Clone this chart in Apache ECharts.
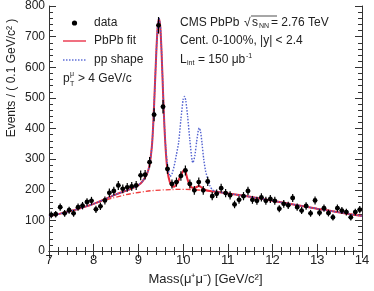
<!DOCTYPE html>
<html>
<head>
<meta charset="utf-8">
<script src="https://cdn.jsdelivr.net/npm/echarts@6/dist/echarts.min.js"></script>
<style>
html,body{margin:0;padding:0;background:#fff;}
#chart{width:374px;height:291px;}
</style>
</head>
<body>
<div id="chart"></div>
<script>
// Bin centres (0.1 GeV/c^2 bins) and event counts
const massBins = [7.05,7.15,7.25,7.35,7.45,7.55,7.65,7.75,7.85,7.95,
  8.05,8.15,8.25,8.35,8.45,8.55,8.65,8.75,8.85,8.95,
  9.05,9.15,9.25,9.35,9.45,9.55,9.65,9.75,9.85,9.95,
  10.05,10.15,10.25,10.35,10.45,10.55,10.65,10.75,10.85,10.95,
  11.05,11.15,11.25,11.35,11.45,11.55,11.65,11.75,11.85,11.95,
  12.05,12.15,12.25,12.35,12.45,12.55,12.65,12.75,12.85,12.95,
  13.05,13.15,13.25,13.35,13.45,13.55,13.65,13.75,13.85,13.95];
const counts = [118,120,143,123,133,123,143,148,160,164,
  136,146,165,190,196,214,203,208,211,214,
  247,249,290,445,737,471,268,219,225,245,
  263,219,198,225,198,227,179,187,205,189,
  182,152,167,179,196,167,164,175,164,170,
  164,138,154,149,173,143,132,147,123,165,
  125,140,124,110,140,132,127,110,127,135];

// PbPb fit curve (red solid)
const fitMass = [7.0,7.5,8.0,8.5,8.8,9.0,9.1,9.2,9.25,9.3,9.33,9.36,9.4,9.43,9.46,9.49,9.52,9.55,9.58,9.61,9.65,9.7,9.75,9.8,9.85,9.9,9.95,10.0,10.03,10.06,10.1,10.15,10.2,10.25,10.3,10.35,10.4,10.45,10.5,10.6,10.8,11.0,11.5,12.0,12.5,13.0,13.5,14.0];
const fitVals = [113,131,154,185,201,215,229,255,282,340,410,510,650,730,758,730,640,520,410,330,262,226,212,210,218,232,248,261,265,255,233,214,207,206,209,212,209,203,199,196,192,188,177,164,151,138,126,114];

// pp shape curve (blue dotted)
const ppMass = [7.0,7.5,8.0,8.5,8.8,9.0,9.1,9.2,9.25,9.3,9.33,9.36,9.4,9.43,9.46,9.49,9.52,9.55,9.58,9.61,9.65,9.71,9.75,9.8,9.85,9.9,9.95,10.0,10.03,10.06,10.1,10.15,10.2,10.22,10.26,10.3,10.34,10.36,10.39,10.42,10.46,10.5,10.55,10.6,10.65,10.7,10.8,11.0,11.5,12.0,12.5,13.0,13.5,14.0];
const ppVals = [113,131,154,185,201,215,229,255,282,340,410,510,652,735,762,735,645,525,415,338,280,243,252,278,315,355,430,495,505,490,440,362,295,288,310,355,395,402,390,355,300,262,235,212,200,196,192,188,177,164,151,138,126,114];

// Background component (red dash-dot)
const bgMass = [7.0,7.5,8.0,8.5,9.0,9.5,10.0,10.5,11.0,11.5,12.0,12.5,13.0,13.5,14.0];
const bgVals = [113,132,154,176,191,199,201,197,188,177,164,151,138,126,114];

const xTicks = [7,8,9,10,11,12,13,14];
const yTicks = [0,100,200,300,400,500,600,700,800];

const FONT = '"Liberation Sans", Arial, Helvetica, sans-serif';
const pair = (xs, ys) => xs.map((x, i) => [x, ys[i]]);
const dataPts = massBins.map((m, i) => [m, counts[i], Math.sqrt(counts[i])]);

const chart = echarts.init(document.getElementById('chart'), null, {renderer: 'canvas'});

const axisCommon = {
  axisLine: {show: true, lineStyle: {color: '#333', width: 1}},
  axisTick: {show: true, inside: true, length: 7, lineStyle: {color: '#333'}},
  minorTick: {show: true, splitNumber: 5, length: 4, lineStyle: {color: '#333'}},
  splitLine: {show: false}
};

const T = (x, y, text, size) => ({type: 'text', x: x, y: y,
  style: {text: text, font: (size || 12) + 'px ' + FONT, fill: '#222', textVerticalAlign: 'middle'}});

chart.setOption({
  animation: false,
  backgroundColor: '#fff',
  grid: {left: 49, right: 12, top: 5, bottom: 40, containLabel: false},
  xAxis: [
    Object.assign({
      type: 'value', min: xTicks[0], max: xTicks[xTicks.length-1], interval: 1,
      position: 'bottom',
      axisLabel: {show: true, margin: 3, fontSize: 13, color: '#222', fontFamily: FONT},
      name: 'Mass(μ⁺μ⁻) [GeV/c²]', nameLocation: 'middle', nameGap: 22,
      nameTextStyle: {fontSize: 13, color: '#222', fontFamily: FONT}
    }, axisCommon),
    Object.assign({
      type: 'value', min: xTicks[0], max: xTicks[xTicks.length-1], interval: 1,
      position: 'top', axisLabel: {show: false}
    }, axisCommon)
  ],
  yAxis: [
    Object.assign({
      type: 'value', min: yTicks[0], max: yTicks[yTicks.length-1], interval: 100,
      position: 'left',
      axisLabel: {show: true, margin: 4, fontSize: 12, color: '#222', fontFamily: FONT}
    }, axisCommon),
    Object.assign({
      type: 'value', min: yTicks[0], max: yTicks[yTicks.length-1], interval: 100,
      position: 'right', axisLabel: {show: false}
    }, axisCommon)
  ],
  series: [
    {
      name: 'background', type: 'line', data: pair(bgMass, bgVals),
      smooth: true, symbol: 'none', z: 2,
      lineStyle: {color: '#f03a3a', width: 1.3, type: [5, 2, 1, 2]}
    },
    {
      name: 'PbPb fit', type: 'line', data: pair(fitMass, fitVals),
      smooth: 0.2, symbol: 'none', z: 3,
      lineStyle: {color: '#e8283a', width: 2}
    },
    {
      name: 'pp shape', type: 'line', data: pair(ppMass, ppVals),
      smooth: 0.2, symbol: 'none', z: 4,
      lineStyle: {color: '#5060d0', width: 1.4, type: [1.5, 1.5]}
    },
    {
      name: 'data', type: 'custom', data: dataPts, z: 5,
      encode: {x: 0, y: 1},
      renderItem: function (params, api) {
        const x = api.value(0), y = api.value(1), e = api.value(2);
        const c = api.coord([x, y]);
        const lo = api.coord([x, y - e]);
        const hi = api.coord([x, y + e]);
        const l = api.coord([x - 0.05, y]);
        const r = api.coord([x + 0.05, y]);
        const st = {stroke: '#000', lineWidth: 1.2};
        return {
          type: 'group',
          children: [
            {type: 'line', shape: {x1: c[0], y1: lo[1], x2: c[0], y2: hi[1]}, style: st},
            {type: 'line', shape: {x1: l[0], y1: c[1], x2: r[0], y2: c[1]}, style: st},
            {type: 'circle', shape: {cx: c[0], cy: c[1], r: 2.4}, style: {fill: '#000'}}
          ]
        };
      }
    }
  ],
  graphic: [
    // y-axis title
    {type: 'text', x: 12, y: 78, rotation: Math.PI / 2,
     style: {text: 'Events / ( 0.1 GeV/c² )', font: '12px ' + FONT, fill: '#222',
             textAlign: 'center', textVerticalAlign: 'middle'}},
    // legend
    {type: 'circle', shape: {cx: 74.5, cy: 23, r: 2.6}, style: {fill: '#000'}},
    T(94, 23, 'data'),
    {type: 'line', shape: {x1: 63, y1: 41, x2: 86, y2: 41}, style: {stroke: '#f07080', lineWidth: 2}},
    T(94, 41, 'PbPb fit'),
    {type: 'line', shape: {x1: 63, y1: 60, x2: 86, y2: 60}, style: {stroke: '#6070d8', lineWidth: 1.3, lineDash: [1.5, 1.5]}},
    T(94, 60, 'pp shape'),
    T(63, 79, 'p'),
    T(70, 74, 'μ', 7),
    T(70, 84, 'T', 7),
    T(78, 79, '> 4 GeV/c'),
    // right annotations
    T(180, 23, 'CMS PbPb'),
    T(244, 23, '√'),
    {type: 'line', shape: {x1: 251, y1: 16, x2: 277, y2: 16}, style: {stroke: '#222', lineWidth: 0.8}},
    T(252, 23, 's'),
    T(259, 26, 'NN', 7),
    T(271, 23, '= 2.76 TeV'),
    T(180, 41, 'Cent. 0-100%, |y| < 2.4'),
    T(180, 60, 'L'),
    T(187, 63, 'int', 7),
    T(198, 60, '= 150 μb'),
    T(246, 56, '-1', 7)
  ]
});
</script>
</body>
</html>
